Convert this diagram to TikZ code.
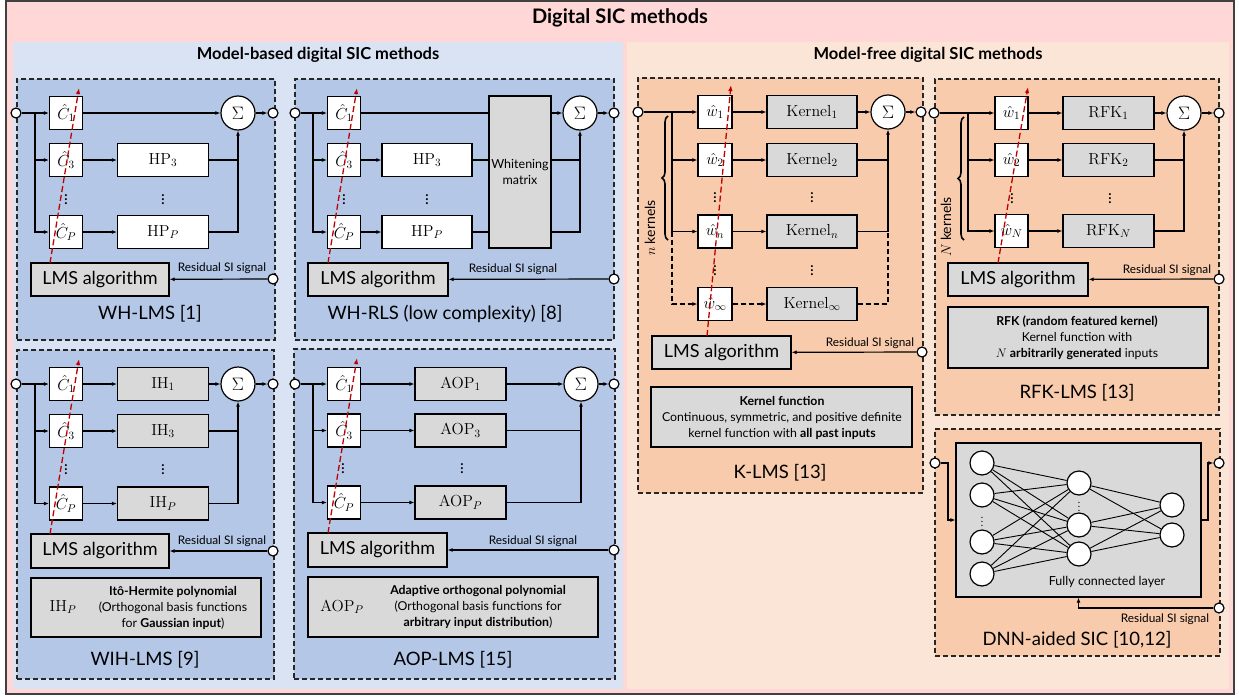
\RequirePackage{fix-cm}
\documentclass[tikz,border=0pt]{standalone}
\usepackage[no-math]{fontspec}
\setmainfont{Lato}
\usetikzlibrary{arrows.meta,decorations.pathreplacing,calc}
\definecolor{pinkbg}{HTML}{FFD7D7}
\definecolor{lblue}{HTML}{DAE3F3}
\definecolor{mblue}{HTML}{B4C7E7}
\definecolor{lpeach}{HTML}{FBE5D6}
\definecolor{mpeach}{HTML}{F8CBAD}
\definecolor{gboxc}{HTML}{D9D9D9}
\definecolor{redd}{HTML}{C00000}
\definecolor{framec}{HTML}{404040}
\newcommand\myfmath{\fontsize{16}{19}\selectfont}
\newcommand\myfsig{\fontsize{18}{20}\selectfont}
\newcommand\myflms{\fontsize{18}{21}\selectfont}
\newcommand\myfttl{\fontsize{18.5}{21}\selectfont}
\newcommand\myfres{\fontsize{11.8}{13}\selectfont}
\newcommand\myfdesc{\fontsize{12.3}{16}\selectfont}
\newcommand\myfsmall{\fontsize{12.5}{16}\selectfont}
\newcommand\myfsub{\fontsize{16.5}{19}\selectfont\bfseries}
\newcommand\myfmain{\fontsize{20}{24}\selectfont\bfseries}
\newcommand\myfbrace{\fontsize{14}{16}\selectfont}
\begin{document}
\begin{tikzpicture}[x=1pt,y=-1pt,line width=1.2pt,
  arr/.style={-{Latex[length=5pt,width=4pt]}},
  dsh/.style={dash pattern=on 5pt off 3pt},
  panelB/.style={draw=black!85,dash pattern=on 5pt off 3pt,fill=mblue,line width=1.1pt},
  panelP/.style={draw=black!85,dash pattern=on 5pt off 3pt,fill=mpeach,line width=1.1pt},
  wb/.style={draw,fill=white,minimum width=33pt,minimum height=33pt,inner sep=0pt,font=\myfmath},
  hb/.style={draw,fill=white,minimum width=91pt,minimum height=33pt,inner sep=0pt,font=\myfmath},
  gb/.style={hb,fill=gboxc},
  sig/.style={circle,draw,fill=white,minimum size=34pt,inner sep=0pt,font=\myfsig},
  port/.style={circle,draw,fill=white,minimum size=10pt,inner sep=0pt},
  lmsb/.style={draw,fill=gboxc,minimum height=33pt,inner sep=0pt,font=\myflms},
  ttl/.style={font=\myfttl,inner sep=0pt},
  rest/.style={font=\myfres,inner sep=0pt},
  descb/.style={draw,fill=gboxc,inner sep=0pt},
  dtext/.style={font=\myfdesc,align=center,inner sep=0pt},
  dotn/.style={font=\myfmath,inner sep=0pt},
  redar/.style={draw=redd,dash pattern=on 6pt off 3pt,line width=1.3pt,-{Latex[length=6pt,width=4.5pt]}},
  neu/.style={circle,draw,fill=white,minimum size=24pt,inner sep=0pt},
  brc/.style={decorate,decoration={brace,amplitude=6pt},line width=1.6pt}
]
\useasboundingbox (0,0) rectangle (1239,696);
% backgrounds
\draw[fill=pinkbg,draw=framec,line width=2pt] (6,1) rectangle (1234,694);
\fill[lblue] (13,42) rectangle (623,689);
\fill[lpeach] (627,42) rectangle (1229,689);
\node[font=\myfmain] (T) at (620,18) {Digital SIC methods};
\node[font=\myfsub] (TL) at (318,55) {Model-based digital SIC methods};
\node[font=\myfsub] (TR) at (928,55) {Model-free digital SIC methods};

% ===== Panel 1: WH-LMS =====
\node[panelB,minimum width=258pt,minimum height=261pt] (P1) at (146,209.5) {};
\node[port] (in1) at (16,113) {};
\node[wb] (c11) at (66,113) {$\hat{C}_1$};
\node[wb] (c13) at (66,160) {$\hat{C}_3$};
\node[wb] (c1p) at (66,232) {$\hat{C}_P$};
\node[dotn] (d1a) at (66,197) {$\vdots$};
\node[hb] (h13) at (163,160) {$\mathrm{HP}_3$};
\node[hb] (h1p) at (163,232) {$\mathrm{HP}_P$};
\node[dotn] (d1b) at (163,197) {$\vdots$};
\node[sig] (s1) at (238,113) {$\Sigma$};
\node[port] (o1) at (273,113) {};
\node[lmsb,minimum width=138pt] (l1) at (100,279.5) {LMS algorithm};
\node[port] (res1) at (273,279) {};
\node[rest] (rt1) at (222,268) {Residual SI signal};
\node[ttl] (t1) at (150,314) {WH-LMS [1]};
\coordinate (b1) at (35,113);
\draw[arr] (in1) -- (c11);
\draw[arr] (b1) |- (c13);
\draw[arr] (b1) |- (c1p);
\draw[arr] (c11) -- (s1);
\draw[arr] (c13) -- (h13);
\draw[arr] (c1p) -- (h1p);
\draw (h13) -- (h13 -| s1);
\draw[arr] (h1p) -| (s1);
\draw[arr] (s1) -- (o1);
\draw[arr] (res1) -- (l1);

% ===== Panel 2: WH-RLS =====
\node[panelB,minimum width=319pt,minimum height=261pt] (P2) at (454.5,209.5) {};
\node[port] (in2) at (295,113) {};
\node[wb] (c21) at (344,113) {$\hat{C}_1$};
\node[wb] (c23) at (344,160) {$\hat{C}_3$};
\node[wb] (c2p) at (344,232) {$\hat{C}_P$};
\node[dotn] (d2a) at (344,197) {$\vdots$};
\node[hb,minimum width=90pt] (h23) at (427,160) {$\mathrm{HP}_3$};
\node[hb,minimum width=90pt] (h2p) at (427,232) {$\mathrm{HP}_P$};
\node[dotn] (d2b) at (427,197) {$\vdots$};
\node[draw,fill=gboxc,minimum width=62pt,minimum height=152pt,inner sep=0pt,font=\myfsmall,align=center] (wm) at (520,172) {Whitening\\matrix};
\node[sig] (s2) at (580,113) {$\Sigma$};
\node[port] (o2) at (614,113) {};
\node[lmsb,minimum width=140pt] (l2) at (378,279.5) {LMS algorithm};
\node[port] (res2) at (614,279) {};
\node[rest] (rt2) at (513,269) {Residual SI signal};
\node[ttl] (t2) at (445,314) {WH-RLS (low complexity) [8]};
\coordinate (b2) at (313,113);
\draw[arr] (in2) -- (c21);
\draw[arr] (b2) |- (c23);
\draw[arr] (b2) |- (c2p);
\draw (c21) -- (c21 -| wm.west);
\draw[arr] (c23) -- (h23);
\draw[arr] (c2p) -- (h2p);
\draw (h23) -- (h23 -| wm.west);
\draw (h2p) -- (h2p -| wm.west);
\draw[arr] (s2 -| wm.east) -- (s2);
\draw (wm.east |- h23) -- (h23 -| s2);
\draw[arr] (wm.east |- h2p) -| (s2);
\draw[arr] (s2) -- (o2);
\draw[arr] (res2) -- (l2);

% ===== Panel 3: WIH-LMS =====
\node[panelB,minimum width=257pt,minimum height=329pt] (P3) at (145.5,514.5) {};
\node[port] (in3) at (16,384) {};
\node[wb] (c31) at (66,384) {$\hat{C}_1$};
\node[wb] (c33) at (66,431) {$\hat{C}_3$};
\node[wb] (c3p) at (66,503.5) {$\hat{C}_P$};
\node[dotn] (d3a) at (66,467) {$\vdots$};
\node[gb] (i31) at (163,384) {$\mathrm{IH}_1$};
\node[gb] (i33) at (163,431) {$\mathrm{IH}_3$};
\node[gb] (i3p) at (163,503.5) {$\mathrm{IH}_P$};
\node[dotn] (d3b) at (163,467) {$\vdots$};
\node[sig] (s3) at (238,384) {$\Sigma$};
\node[port] (o3) at (273,384) {};
\node[lmsb,minimum width=138pt,minimum height=34pt] (l3) at (100,551) {LMS algorithm};
\node[port] (res3) at (273,551) {};
\node[rest] (rt3) at (222,541) {Residual SI signal};
\node[descb,minimum width=230pt,minimum height=59pt] (desc3) at (146,607.5) {};
\node[font=\myfmath] (dl3) at (63,607) {$\mathrm{IH}_P$};
\node[dtext] (dt3) at (173,608) {\textbf{Itô-Hermite polynomial}\\(Orthogonal basis functions\\for \textbf{Gaussian input})};
\node[ttl] (t3) at (145,660) {WIH-LMS [9]};
\coordinate (b3) at (35,384);
\draw[arr] (in3) -- (c31);
\draw[arr] (b3) |- (c33);
\draw[arr] (b3) |- (c3p);
\draw[arr] (c31) -- (i31);
\draw[arr] (i31) -- (s3);
\draw[arr] (c33) -- (i33);
\draw[arr] (c3p) -- (i3p);
\draw (i33) -- (i33 -| s3);
\draw[arr] (i3p) -| (s3);
\draw[arr] (s3) -- (o3);
\draw[arr] (res3) -- (l3);

% ===== Panel 4: AOP-LMS =====
\node[panelB,minimum width=321pt,minimum height=330pt] (P4) at (454.5,514) {};
\node[port] (in4) at (295,384) {};
\node[wb] (c41) at (344,384) {$\hat{C}_1$};
\node[wb] (c43) at (344,430.5) {$\hat{C}_3$};
\node[wb] (c4p) at (344,502.5) {$\hat{C}_P$};
\node[dotn] (d4a) at (343,466) {$\vdots$};
\node[gb] (a41) at (460.5,384) {$\mathrm{AOP}_1$};
\node[gb] (a43) at (460.5,430.5) {$\mathrm{AOP}_3$};
\node[gb] (a4p) at (460.5,502.5) {$\mathrm{AOP}_P$};
\node[dotn] (d4b) at (462,466) {$\vdots$};
\node[sig] (s4) at (581,384) {$\Sigma$};
\node[port] (o4) at (614,384) {};
\node[lmsb,minimum width=139pt,minimum height=34pt] (l4) at (377.5,550) {LMS algorithm};
\node[port] (res4) at (614,550) {};
\node[rest] (rt4) at (533,541) {Residual SI signal};
\node[descb,minimum width=290pt,minimum height=60pt] (desc4) at (453,607) {};
\node[font=\myfmath] (dl4) at (342,607) {$\mathrm{AOP}_P$};
\node[dtext] (dt4) at (478,607) {\textbf{Adaptive orthogonal polynomial}\\(Orthogonal basis functions for\\\textbf{arbitrary input distribution})};
\node[ttl] (t4) at (453,660) {AOP-LMS [15]};
\coordinate (b4) at (313,384);
\draw[arr] (in4) -- (c41);
\draw[arr] (b4) |- (c43);
\draw[arr] (b4) |- (c4p);
\draw[arr] (c41) -- (a41);
\draw[arr] (a41) -- (s4);
\draw[arr] (c43) -- (a43);
\draw[arr] (c4p) -- (a4p);
\draw (a43) -- (a43 -| s4);
\draw[arr] (a4p) -| (s4);
\draw[arr] (s4) -- (o4);
\draw[arr] (res4) -- (l4);

% ===== Panel 5: K-LMS =====
\node[panelP,minimum width=285pt,minimum height=415pt] (P5) at (780.5,285.5) {};
\node[port] (in5) at (638,112) {};
\node[wb,minimum width=34pt] (w51) at (715,112) {$\hat{w}_1$};
\node[wb,minimum width=34pt] (w52) at (715,160) {$\hat{w}_2$};
\node[wb,minimum width=34pt] (w5n) at (715,231.5) {$\hat{w}_n$};
\node[wb,minimum width=34pt] (w5i) at (715,304) {$\hat{w}_\infty$};
\node[gb,minimum width=90pt] (k51) at (812,112) {$\mathrm{Kernel}_1$};
\node[gb,minimum width=90pt] (k52) at (812,160) {$\mathrm{Kernel}_2$};
\node[gb,minimum width=90pt] (k5n) at (812,231.5) {$\mathrm{Kernel}_n$};
\node[gb,minimum width=90pt] (k5i) at (812,304) {$\mathrm{Kernel}_\infty$};
\node[dotn] (d5a) at (715,195) {$\vdots$};
\node[dotn] (d5b) at (715,268) {$\vdots$};
\node[dotn] (d5c) at (812,195) {$\vdots$};
\node[dotn] (d5d) at (812,268) {$\vdots$};
\node[sig] (s5) at (888,112) {$\Sigma$};
\node[port] (o5) at (921,112) {};
\coordinate (b5) at (672,112);
\draw[arr] (in5) -- (w51);
\draw[arr] (b5) |- (w52);
\draw[arr] (b5) |- (w5n);
\draw[dsh,arr] (b5 |- w5n) |- (w5i);
\draw[arr] (w51) -- (k51);
\draw[arr] (k51) -- (s5);
\draw[arr] (w52) -- (k52);
\draw (k52) -- (k52 -| s5);
\draw[arr] (w5n) -- (k5n);
\draw[arr] (k5n) -| (s5);
\draw[dsh,arr] (w5i) -- (k5i);
\draw[dsh] (k5i) -| (k5n -| s5);
\draw[arr] (s5) -- (o5);
\draw[brc] (668,240) -- (668,116);
\node[rotate=90,font=\myfbrace,inner sep=0pt] (bl5) at (650,228) {$n$ kernels};
\node[lmsb,minimum width=139pt] (l5) at (721.5,352.5) {LMS algorithm};
\node[port] (res5) at (922,352) {};
\node[rest] (rt5) at (870,343) {Residual SI signal};
\draw[arr] (res5) -- (l5);
\node[descb,minimum width=261pt,minimum height=60pt] (desc5) at (781.5,417) {};
\node[dtext] (dt5) at (782,418) {\textbf{Kernel function}\\Continuous, symmetric, and positive definite\\kernel function with \textbf{all past inputs}};
\node[ttl] (t5) at (780,473) {K-LMS [13]};

% ===== Panel 6: RFK-LMS =====
\node[panelP,minimum width=284pt,minimum height=336pt] (P6) at (1077,247) {};
\node[port] (in6) at (934,113) {};
\node[wb] (w61) at (1011.5,113) {$\hat{w}_1$};
\node[wb] (w62) at (1011.5,160) {$\hat{w}_2$};
\node[wb] (w6N) at (1011.5,231) {$\hat{w}_N$};
\node[gb] (r61) at (1108.5,113) {$\mathrm{RFK}_1$};
\node[gb] (r62) at (1108.5,160) {$\mathrm{RFK}_2$};
\node[gb] (r6N) at (1108.5,231) {$\mathrm{RFK}_N$};
\node[dotn] (d6a) at (1012,196) {$\vdots$};
\node[dotn] (d6b) at (1110,196) {$\vdots$};
\node[sig] (s6) at (1184,113) {$\Sigma$};
\node[port] (o6) at (1219,113) {};
\coordinate (b6) at (968,113);
\draw[arr] (in6) -- (w61);
\draw[arr] (b6) |- (w62);
\draw[arr] (b6) |- (w6N);
\draw[arr] (w61) -- (r61);
\draw[arr] (r61) -- (s6);
\draw[arr] (w62) -- (r62);
\draw (r62) -- (r62 -| s6);
\draw[arr] (w6N) -- (r6N);
\draw[arr] (r6N) -| (s6);
\draw[arr] (s6) -- (o6);
\draw[brc] (964,240) -- (964,117);
\node[rotate=90,font=\myfbrace,inner sep=0pt] (bl6) at (946,227) {$N$ kernels};
\node[lmsb,minimum width=140pt] (l6) at (1018,279.5) {LMS algorithm};
\node[port] (res6) at (1219,279) {};
\node[rest] (rt6) at (1167,270) {Residual SI signal};
\draw[arr] (res6) -- (l6);
\node[descb,minimum width=260pt,minimum height=61pt] (desc6) at (1078,337.5) {};
\node[dtext] (dt6) at (1077,338) {\textbf{RFK (random featured kernel)}\\Kernel function with\\$N$ \textbf{arbitrarily generated} inputs};
\node[ttl] (t6) at (1077,393) {RFK-LMS [13]};

% ===== Panel 7: DNN =====
\node[panelP,minimum width=285pt,minimum height=227pt] (P7) at (1077.5,542.5) {};
\node[descb,minimum width=245pt,minimum height=154pt] (nn) at (1078.5,520) {};
\node[port] (in7) at (935,463) {};
\node[port] (o7) at (1219,463) {};
\node[port] (res7) at (1219,608) {};
\coordinate (k7a) at (948,520);
\coordinate (k7b) at (1208,520);
\draw[arr] (in7) -| (k7a) -- (k7a -| nn.west);
\draw[arr] (nn.east |- k7b) -- (k7b) |- (o7);
\draw[arr] (res7) -| (nn.south);
\node[rest] (rt7) at (1165,619) {Residual SI signal};
\node[font=\myfsmall,inner sep=0pt] (fc) at (1107,582) {Fully connected layer};
\node[neu] (n1a) at (982,463) {};
\node[neu] (n1b) at (982,495) {};
\node[neu] (n1c) at (982,542) {};
\node[neu] (n1d) at (982,574) {};
\node[neu] (n2a) at (1079,483) {};
\node[neu] (n2b) at (1079,525) {};
\node[neu] (n2c) at (1079,554) {};
\node[neu] (n3a) at (1172,505) {};
\node[neu] (n3b) at (1172,535) {};
\node[font=\fontsize{10}{12}\selectfont,inner sep=0pt] (d7a) at (982,519) {$\vdots$};
\node[font=\fontsize{10}{12}\selectfont,inner sep=0pt] (d7b) at (1079,504) {$\vdots$};
\begin{scope}[line width=0.9pt]
\foreach \a in {n1a,n1b,n1c,n1d}{\foreach \b in {n2a,n2b,n2c}{\draw (\a) -- (\b);}}
\foreach \a in {n2a,n2b,n2c}{\foreach \b in {n3a,n3b}{\draw (\a) -- (\b);}}
\end{scope}
\node[ttl] (t7) at (1077,640) {DNN-aided SIC [10,12]};

% ===== red adaptation arrows =====
\coordinate (ra1) at (50,263);   \coordinate (rb1) at (79,88);
\coordinate (ra2) at (328,263);  \coordinate (rb2) at (357,88);
\coordinate (ra3) at (50,534);   \coordinate (rb3) at (79,359);
\coordinate (ra4) at (328,533);  \coordinate (rb4) at (357,358);
\coordinate (ra5) at (707,336);  \coordinate (rb5) at (731,85);
\coordinate (ra6) at (998,263);  \coordinate (rb6) at (1028,87);
\foreach \i in {1,...,6}{\draw[redar] (ra\i) -- (rb\i);}
\end{tikzpicture}
\end{document}
